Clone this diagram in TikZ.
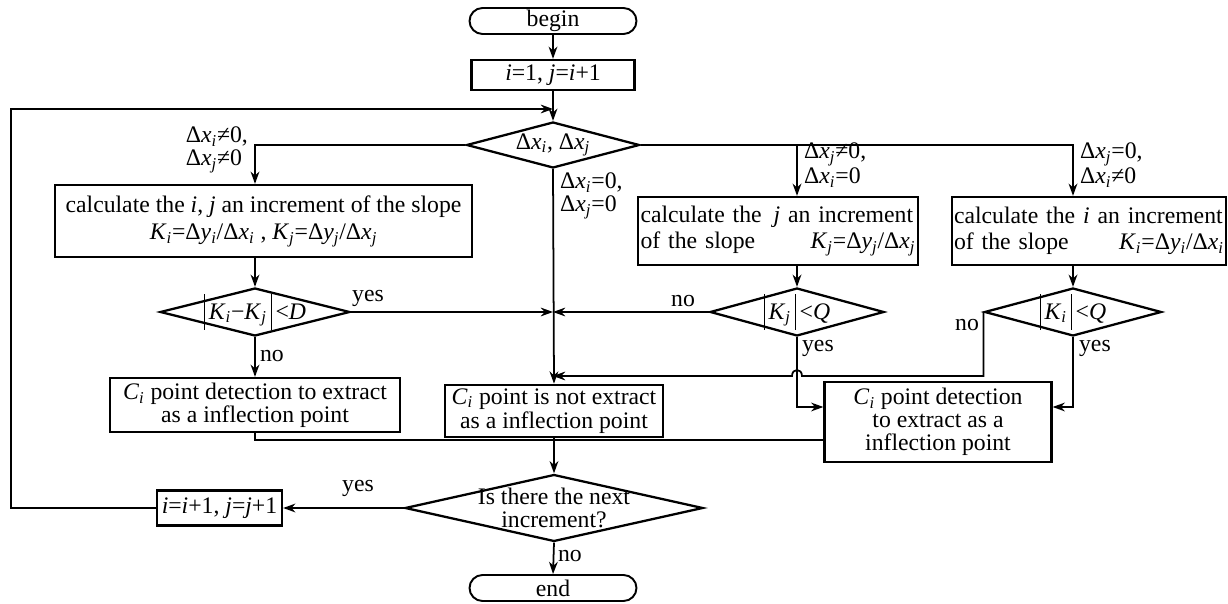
\documentclass[tikz,border=0pt]{standalone}
\usepackage{fontspec}
\setmainfont{Liberation Serif}
\usepackage{tikz}
\usetikzlibrary{
    positioning,
    arrows.meta,
    calc,
    shapes.geometric,
    shapes.misc
}
\newcommand{\vs}[2]{\textit{#1}\textsubscript{\textit{#2}}}
\newcommand{\absbar}{\rule[-6pt]{0.5pt}{20pt}}

\begin{document}
\begin{tikzpicture}[x=0.02cm, y=-0.02cm, >={Stealth[length=7pt,width=5pt]},
        every node/.style={font=\fontsize{13.5}{13}\selectfont},
        proc/.style={draw, line width=1.3pt, rectangle, inner sep=2pt, align=center},
        term/.style={draw, line width=1.1pt, rounded rectangle, minimum width=3.34cm, minimum height=0.52cm, inner sep=0pt},
        dec/.style={draw, line width=1.3pt, diamond, inner sep=0pt},
        flow/.style={line width=1pt},
        lbl/.style={inner sep=1pt, align=left}]
        \useasboundingbox (0,0) rectangle (1228,604);

        % start
        \node[term] (begin) at (553,21) {begin};
        \node[proc, minimum width=3.26cm, minimum height=0.6cm] (init) at (553,75) {\textit{i}=1, \textit{j}=\textit{i}+1};
        \node[dec, minimum width=3.46cm, minimum height=0.92cm,
            label={center:Δ\vs{x}{i}, Δ\vs{x}{j}}] (dxy) at (553,145) {};

        % left branch
        \node[proc, minimum width=8.34cm, minimum height=1.44cm,
            font=\fontsize{13.5}{15.5}\selectfont] (calcij) at (263.5,221)
            {calculate the \textit{i}, \textit{j} an increment of the slope\\
             \vs{K}{i}=Δ\vs{y}{i}/Δ\vs{x}{i} , \vs{K}{j}=Δ\vs{y}{j}/Δ\vs{x}{j}};
        \node[dec, minimum width=3.8cm, minimum height=0.96cm,
            label={center:\absbar\,\vs{K}{i}−\vs{K}{j}\,\absbar\,<\textit{D}}] (dKK) at (255,312) {};
        \node[proc, minimum width=5.8cm, minimum height=1.08cm] (detL) at (255,405)
            {\vs{C}{i} point detection to extract\\as a inflection point};

        % middle
        \node[proc, minimum width=4.36cm, minimum height=1cm,
            font=\fontsize{13.5}{14}\selectfont] (notext) at (554,411)
            {\vs{C}{i} point is not extract\\as a inflection point};

        % right branches
        \node[proc, minimum width=5.6cm, minimum height=1.36cm, text width=5.5cm, align=left,
            inner xsep=1pt, font=\fontsize{13.5}{14.5}\selectfont] (calcj) at (778,231)
            {\mbox{calculate the \,\textit{j} an increment}\\of the slope\hfill\vs{K}{j}=Δ\vs{y}{j}/Δ\vs{x}{j}\hspace*{6pt}};
        \node[dec, minimum width=3.48cm, minimum height=0.96cm,
            label={center:\absbar\,\vs{K}{j}\,\absbar\,<\textit{Q}}] (dKj) at (797,312) {};
        \node[proc, minimum width=5.48cm, minimum height=1.36cm, text width=5.4cm, align=left,
            inner xsep=1pt, font=\fontsize{13.5}{14.5}\selectfont] (calci) at (1089,231)
            {\mbox{calculate the \textit{i} an increment}\\of the slope\hfill\vs{K}{i}=Δ\vs{y}{i}/Δ\vs{x}{i}\hspace*{4pt}};
        \node[dec, minimum width=3.54cm, minimum height=0.96cm,
            label={center:\absbar\,\vs{K}{i}\,\absbar\,<\textit{Q}}] (dKi) at (1073,312) {};
        \node[proc, minimum width=4.54cm, minimum height=1.6cm] (detR) at (938,422)
            {\vs{C}{i} point detection\\to extract as a\\inflection point};

        % bottom
        \node[dec, minimum width=5.96cm, minimum height=1.34cm,
            label={center:\parbox{4cm}{\centering Is there the next\\increment?}}] (nextQ) at (554,508) {};
        \node[proc, minimum width=2.5cm, minimum height=0.7cm] (incr) at (219.5,508)
            {\textit{i}=\textit{i}+1, \textit{j}=\textit{j}+1};
        \node[term] (end) at (553,588) {end};

        % join points
        \coordinate (loopL) at (11,109);
        \coordinate (loopIn) at (553,109);
        \coordinate (noIn) at (553,376);
        \coordinate (joinC) at (553,440);

        % connectors
        \draw[flow,->] (begin) -- (init);
        \draw[flow,->] (init) -- (dxy);
        \draw[flow,->] (incr.west) -| (loopL) -- (loopIn);
        \draw[flow,->] (dxy.west) -| (calcij.north -| dKK);
        \draw[flow,->] (dxy.east) -| (calci.north -| dKi);
        \draw[flow,->] (dxy.east -| dKj) -- (calcj.north -| dKj);
        \draw[flow,->] (dxy.south) -- (notext.north);
        \draw[flow,->] (calcij.south -| dKK) -- (dKK.north);
        \draw[flow,->] (calcj.south -| dKj) -- (dKj.north);
        \draw[flow,->] (calci.south -| dKi) -- (dKi.north);
        \draw[flow,->] (dKK.east) -- (dKK.east -| dxy);
        \draw[flow,->] (dKj.west) -- (dKj.west -| dxy);
        \draw[flow,->] (dKK.south) -- (detL.north);
        \draw[flow,->] (dKi.west) |- ($(noIn -| dKj)+(5,0)$)
            .. controls +(0,-8) and +(0,-8) .. ($(noIn -| dKj)+(-5,0)$) -- (noIn);
        \draw[flow,->] (dKj.south) |- ($(detR.west)+(0,-15)$);
        \draw[flow,->] (dKi.south) |- ($(detR.east)+(0,-15)$);
        \draw[flow] (detL.south) |- (joinC);
        \draw[flow] (detR.west |- joinC) -- (joinC);
        \draw[flow,->] (notext.south) -- (nextQ.north);
        \draw[flow,->] (nextQ.west) -- (incr.east);
        \draw[flow,->] (nextQ.south) -- (end.north);

        % branch labels
        \node[lbl, anchor=east] at (250,150) {Δ\vs{x}{i}≠0,\\Δ\vs{x}{j}≠0};
        \node[lbl, anchor=west] at (558,196) {Δ\vs{x}{i}=0,\\Δ\vs{x}{j}=0};
        \node[lbl, anchor=west] at (802,165) {Δ\vs{x}{j}≠0,\\Δ\vs{x}{i}=0};
        \node[lbl, anchor=west] at (1078,165) {Δ\vs{x}{j}=0,\\Δ\vs{x}{i}≠0};
        \node[lbl] at (368,298) {yes};
        \node[lbl, anchor=west] at (258,356) {no};
        \node[lbl] at (683,301) {no};
        \node[lbl, anchor=west] at (800,348) {yes};
        \node[lbl, anchor=east] at (981,325) {no};
        \node[lbl, anchor=west] at (1077,348) {yes};
        \node[lbl] at (358,488) {yes};
        \node[lbl, anchor=west] at (556,556) {no};
\end{tikzpicture}
\end{document}
